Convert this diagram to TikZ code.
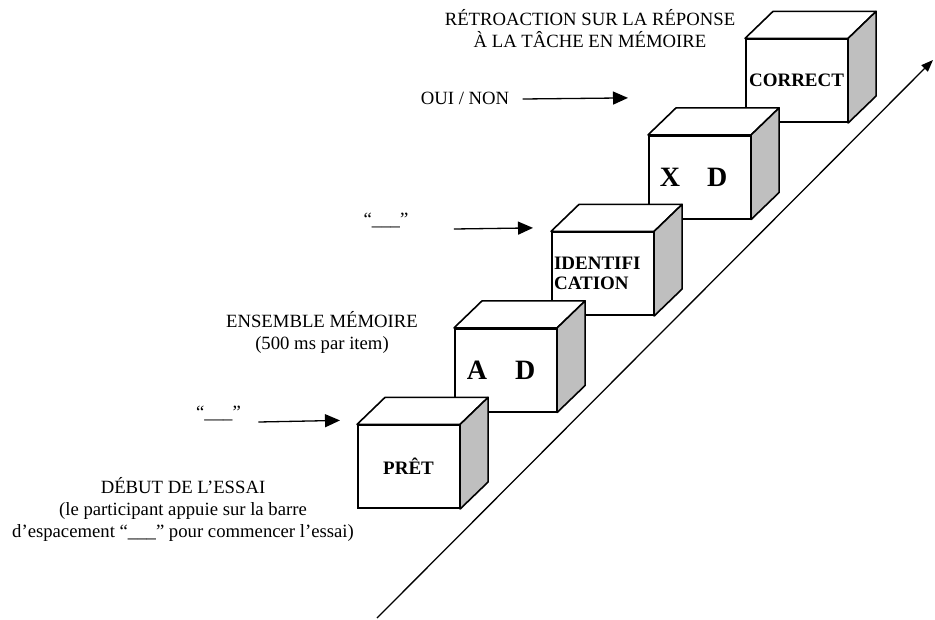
\documentclass[tikz,border=0pt]{standalone}
\usepackage{fontspec}
\setmainfont{Liberation Serif}
\usetikzlibrary{arrows.meta, calc}

\begin{document}
\begin{tikzpicture}[x=1pt, y=-1pt,
    every node/.style={font=\fontsize{18.7}{22}\selectfont},
    cubefront/.style={draw, fill=white, line width=1.6pt, minimum width=101.5pt, minimum height=83pt,
      text width=97pt, inner sep=0pt, anchor=south west, font=\fontsize{19}{20}\selectfont\bfseries},
    cubetop/.style={draw, fill=white, line width=1.6pt, line join=round},
    cubeside/.style={draw, fill=gray!50, line width=1.6pt, line join=round},
    lbl/.style={align=center, anchor=base},
    arr/.style={-{Triangle[length=15pt, width=13pt]}, line width=1.3pt}]
  \useasboundingbox (0,0) rectangle (935,619);

  % rising line behind the steps
  \coordinate (lo) at (377,618);
  \coordinate (hi) at (933,60);
  \draw[-{Triangle[length=12pt, width=9pt]}, line width=1.3pt] (lo) -- (hi);

  % cubes, drawn from the top step down so lower ones overlap
  \foreach \i/\txt/\al in {5/CORRECT/center,
      4/{\fontsize{28}{28}\selectfont X\hspace{27pt}D\rule{12pt}{0pt}}/center,
      3/{IDENTIFI\\CATION}/left,
      2/{\fontsize{28}{28}\selectfont A\hspace{28pt}D\rule{9pt}{0pt}}/center,
      1/PRÊT/center} {
    \node[cubefront, align=\al] (c\i) at ({357+97*(\i-1)}, {509-96.5*(\i-1)}) {\txt};
    \draw[cubetop] (c\i.north west) -- ++(28,-27) -- ($(c\i.north east)+(28,-27)$) -- (c\i.north east) -- cycle;
    \draw[cubeside] (c\i.north east) -- ++(28,-27) -- ($(c\i.south east)+(28,-27)$) -- (c\i.south east) -- cycle;
  }

  % labels
  \node[lbl] (fb) at (590,47) {RÉTROACTION SUR LA RÉPONSE\\À LA TÂCHE EN MÉMOIRE};
  \node[lbl] (yn) at (465,104) {OUI / NON};
  \node[lbl] (q2) at (386,225) {“\_\_\_”};
  \node[lbl] (mem) at (322,349) {ENSEMBLE MÉMOIRE\\(500 ms par item)};
  \node[lbl] (q1) at (218.5,418.5) {“\_\_\_”};
  \node[lbl] (start) at (183,537) {DÉBUT DE L’ESSAI\\(le participant appuie sur la barre\\d’espacement “\_\_\_” pour commencer l’essai)};

  % arrows to the steps
  \draw[arr] ($(yn.base east)+(10,-5)$) -- ($(c4.north west)+(-20,-37)$);
  \draw[arr] ($(q2.base east)+(42,4)$) -- ($(c3.north west)+(-18,-3.5)$);
  \draw[arr] ($(q1.base east)+(14,3.5)$) -- ($(c1.north west)+(-17,-4)$);
\end{tikzpicture}
\end{document}
